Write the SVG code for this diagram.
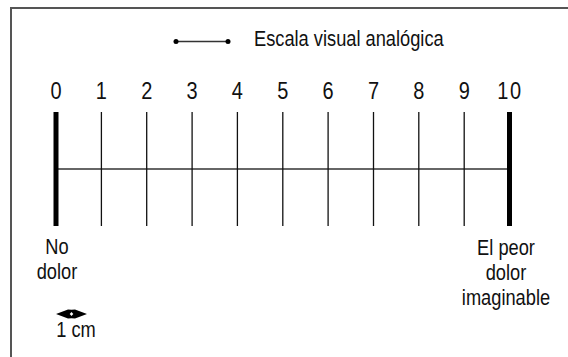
<svg xmlns="http://www.w3.org/2000/svg" width="568" height="357" viewBox="0 0 568 357">
<style>
text{font-family:"Liberation Sans",Arial,sans-serif;font-size:22px;fill:#111;}
.n{text-anchor:middle;}
.d{font-size:23.5px;}
.tick{stroke:#111;stroke-width:1.3;}
.bar{stroke:#000;stroke-width:5;}
</style>
<rect width="568" height="357" fill="#fff"/>
<g id="frame">
<path d="M11,357 V8 H568" fill="none" stroke="#555" stroke-width="2"/>
</g>
<g id="legend">
<line x1="176" y1="41.5" x2="228" y2="41.5" stroke="#333" stroke-width="1.5"/>
<circle cx="176" cy="41.5" r="2.5" fill="#000"/>
<circle cx="228" cy="41.5" r="2.5" fill="#000"/>
<text transform="translate(254,46) scale(0.83,1)">Escala visual analógica</text>
</g>
<g id="connectors">
<line x1="56" y1="169" x2="509.5" y2="169" stroke="#333" stroke-width="1.3"/>
</g>
<g id="ticks">
<line class="bar" x1="56" y1="112" x2="56" y2="226"/>
<line class="tick" x1="101.4" y1="112" x2="101.4" y2="226"/>
<line class="tick" x1="146.7" y1="112" x2="146.7" y2="226"/>
<line class="tick" x1="192.1" y1="112" x2="192.1" y2="226"/>
<line class="tick" x1="237.4" y1="112" x2="237.4" y2="226"/>
<line class="tick" x1="282.8" y1="112" x2="282.8" y2="226"/>
<line class="tick" x1="328.1" y1="112" x2="328.1" y2="226"/>
<line class="tick" x1="373.5" y1="112" x2="373.5" y2="226"/>
<line class="tick" x1="418.8" y1="112" x2="418.8" y2="226"/>
<line class="tick" x1="464.2" y1="112" x2="464.2" y2="226"/>
<line class="bar" x1="509.5" y1="112" x2="509.5" y2="226"/>
</g>
<g id="numbers">
<text class="n d" transform="translate(56,98.5) scale(0.85,1)">0</text>
<text class="n d" transform="translate(101.4,98.5) scale(0.85,1)">1</text>
<text class="n d" transform="translate(146.7,98.5) scale(0.85,1)">2</text>
<text class="n d" transform="translate(192.1,98.5) scale(0.85,1)">3</text>
<text class="n d" transform="translate(237.4,98.5) scale(0.85,1)">4</text>
<text class="n d" transform="translate(282.8,98.5) scale(0.85,1)">5</text>
<text class="n d" transform="translate(328.1,98.5) scale(0.85,1)">6</text>
<text class="n d" transform="translate(373.5,98.5) scale(0.85,1)">7</text>
<text class="n d" transform="translate(418.8,98.5) scale(0.85,1)">8</text>
<text class="n d" transform="translate(464.2,98.5) scale(0.85,1)">9</text>
<text class="n d" transform="translate(510,98.5) scale(0.85,1)" letter-spacing="2">10</text>
</g>
<g id="label-left">
<text class="n" transform="translate(57,254) scale(0.83,1)">No</text>
<text class="n" transform="translate(57,279) scale(0.83,1)">dolor</text>
</g>
<g id="label-right">
<text class="n" transform="translate(506,255) scale(0.83,1)">El peor</text>
<text class="n" transform="translate(506,280) scale(0.83,1)">dolor</text>
<text class="n" transform="translate(506,305) scale(0.83,1)">imaginable</text>
</g>
<g id="unit">
<polygon points="56,314 68,309.5 71.5,309.8 75,309.5 87,314 75,318.5 71.5,318.2 68,318.5" fill="#000"/>
<polygon points="71.5,312 73.3,314 71.5,316 69.7,314" fill="#fff"/>
<text class="n" transform="translate(76,337) scale(0.83,1)">1 cm</text>
</g>
</svg>
